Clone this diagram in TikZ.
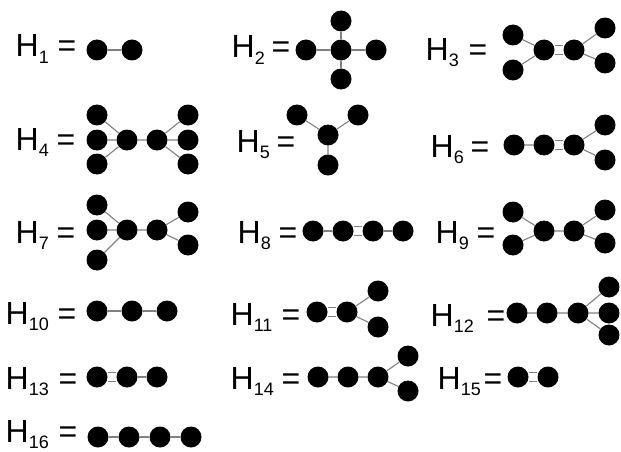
\documentclass[tikz,border=0pt]{standalone}
\usepackage{fontspec}
\newfontfamily\labfont{Liberation Sans}
\usetikzlibrary{backgrounds}
\tikzset{
  v/.style={circle,fill=black,minimum size=21pt,inner sep=0pt},
  e/.style={draw=black!50,line width=1.1pt},
  ee/.style={e,double=white,double distance=7.9pt},
  glabel/.style={anchor=base west,inner sep=0pt,font=\labfont\fontsize{32}{32}\selectfont}
}
% name, H left x, baseline y, subscript, x of "="
\newcommand\glab[5]{%
  \node[glabel] (#1) at ({#2-2.5},-#3)
    {\makebox[\dimexpr #5pt-#2pt+1.0pt\relax][l]{H\lower6pt\hbox{\fontsize{18}{18}\selectfont #4}}=};}
\begin{document}
\begin{tikzpicture}[x=1pt,y=1pt]
\useasboundingbox (0,0) rectangle (621,-452);
% labels
\glab{L1}{18}{57}{1}{59}
\glab{L2}{234}{58}{2}{273}
\glab{L3}{428}{60}{3}{470}
\glab{L4}{18}{150}{4}{58}
\glab{L5}{239}{152}{5}{278}
\glab{L6}{433}{157}{6}{472}
\glab{L7}{18}{243}{7}{58}
\glab{L8}{240}{243}{8}{280}
\glab{L9}{438}{243}{9}{478}
\glab{L10}{8}{324}{10}{59}
\glab{L11}{233}{325}{11}{283}
\glab{L12}{433}{326}{12}{488}
\glab{L13}{8}{389}{13}{60}
\glab{L14}{233}{389}{14}{283}
\glab{L15}{440}{389}{15}{485}
\glab{L16}{8}{442}{16}{60}
% H1
\node[v] (a1) at (97,-50) {};
\node[v] (a2) at (132,-50) {};
% H2
\node[v] (b0) at (341,-50) {};
\node[v] (b1) at (306,-50) {};
\node[v] (b2) at (376,-50) {};
\node[v] (b3) at (341,-21) {};
\node[v] (b4) at (341,-79) {};
% H3
\node[v] (c1) at (513,-35) {};
\node[v] (c2) at (513,-70) {};
\node[v] (c3) at (544,-50) {};
\node[v] (c4) at (574,-50) {};
\node[v] (c5) at (605,-28) {};
\node[v] (c6) at (605,-63) {};
% H4
\node[v] (d1) at (97,-115) {};
\node[v] (d2) at (97,-140) {};
\node[v] (d3) at (97,-164) {};
\node[v] (d4) at (127,-140) {};
\node[v] (d5) at (157,-140) {};
\node[v] (d6) at (188,-115) {};
\node[v] (d7) at (188,-140) {};
\node[v] (d8) at (188,-164) {};
% H5
\node[v] (f1) at (297,-115) {};
\node[v] (f2) at (358,-115) {};
\node[v] (f3) at (328,-135) {};
\node[v] (f4) at (328,-165) {};
% H6
\node[v] (g1) at (514,-145) {};
\node[v] (g2) at (544,-145) {};
\node[v] (g3) at (574,-145) {};
\node[v] (g4) at (605,-125) {};
\node[v] (g5) at (605,-160) {};
% H7
\node[v] (h1) at (97,-205) {};
\node[v] (h2) at (97,-230) {};
\node[v] (h3) at (97,-260) {};
\node[v] (h4) at (127,-230) {};
\node[v] (h5) at (157,-230) {};
\node[v] (h6) at (188,-212) {};
\node[v] (h7) at (188,-245) {};
% H8
\node[v] (i1) at (313,-231) {};
\node[v] (i2) at (343,-231) {};
\node[v] (i3) at (373,-231) {};
\node[v] (i4) at (403,-231) {};
% H9
\node[v] (j1) at (513,-212) {};
\node[v] (j2) at (513,-245) {};
\node[v] (j3) at (544,-231) {};
\node[v] (j4) at (574,-231) {};
\node[v] (j5) at (605,-210) {};
\node[v] (j6) at (605,-243) {};
% H10
\node[v] (k1) at (97,-311) {};
\node[v] (k2) at (132,-311) {};
\node[v] (k3) at (167,-311) {};
% H11
\node[v] (m1) at (317,-312) {};
\node[v] (m2) at (347,-312) {};
\node[v] (m3) at (378,-291) {};
\node[v] (m4) at (378,-327) {};
% H12
\node[v] (n1) at (517,-313) {};
\node[v] (n2) at (547,-313) {};
\node[v] (n3) at (578,-313) {};
\node[v] (n4) at (609,-287) {};
\node[v] (n5) at (609,-313) {};
\node[v] (n6) at (609,-335) {};
% H13
\node[v] (o1) at (97,-377) {};
\node[v] (o2) at (127,-377) {};
\node[v] (o3) at (157,-377) {};
% H14
\node[v] (p1) at (318,-377) {};
\node[v] (p2) at (348,-377) {};
\node[v] (p3) at (378,-377) {};
\node[v] (p4) at (408,-356) {};
\node[v] (p5) at (408,-391) {};
% H15
\node[v] (q1) at (518,-377) {};
\node[v] (q2) at (548,-377) {};
% H16
\node[v] (r1) at (98,-437) {};
\node[v] (r2) at (129,-437) {};
\node[v] (r3) at (160,-437) {};
\node[v] (r4) at (191,-437) {};
\begin{pgfonlayer}{background}
\draw[e] (a1) -- (a2);
\draw[e] (b0) -- (b1) (b0) -- (b2) (b0) -- (b3) (b0) -- (b4);
\draw[e] (c1) -- (c3) (c2) -- (c3) (c4) -- (c5) (c4) -- (c6);
\draw[ee] (c3) -- (c4);
\draw[e] (d1) -- (d4) (d2) -- (d4) (d3) -- (d4) (d4) -- (d5) (d5) -- (d6) (d5) -- (d7) (d5) -- (d8);
\draw[e] (f1) -- (f3) (f2) -- (f3) (f3) -- (f4);
\draw[e] (g1) -- (g2) (g3) -- (g4) (g3) -- (g5);
\draw[ee] (g2) -- (g3);
\draw[e] (h1) -- (h4) (h2) -- (h4) (h3) -- (h4) (h4) -- (h5) (h5) -- (h6) (h5) -- (h7);
\draw[e] (i1) -- (i2) (i3) -- (i4);
\draw[ee] (i2) -- (i3);
\draw[e] (j1) -- (j3) (j2) -- (j3) (j3) -- (j4) (j4) -- (j5) (j4) -- (j6);
\draw[e] (k1) -- (k2) (k2) -- (k3);
\draw[ee] (m1) -- (m2);
\draw[e] (m2) -- (m3) (m2) -- (m4);
\draw[e] (n1) -- (n2) (n2) -- (n3) (n3) -- (n4) (n3) -- (n5) (n3) -- (n6);
\draw[ee] (o1) -- (o2);
\draw[e] (o2) -- (o3);
\draw[e] (p1) -- (p2) (p2) -- (p3) (p3) -- (p4) (p3) -- (p5);
\draw[ee] (q1) -- (q2);
\draw[e] (r1) -- (r2) (r2) -- (r3) (r3) -- (r4);
\end{pgfonlayer}
\end{tikzpicture}
\end{document}
